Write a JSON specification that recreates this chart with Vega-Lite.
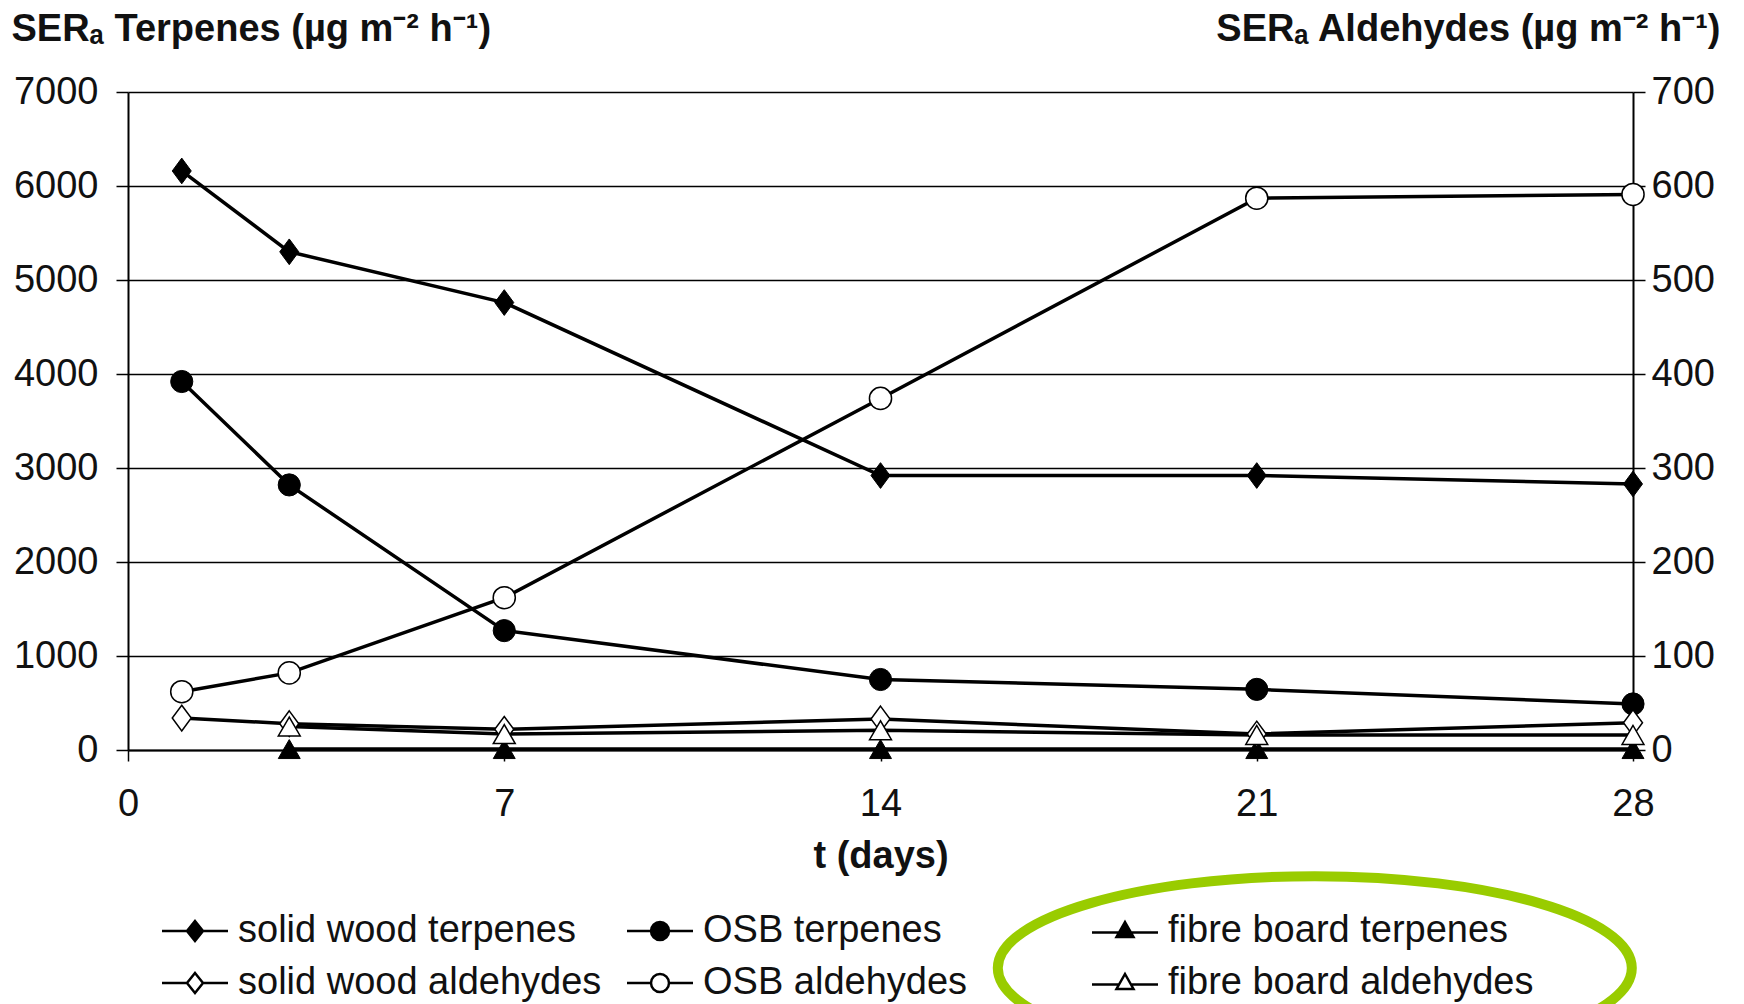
{
  "$schema": "https://vega.github.io/schema/vega-lite/v6.json",
  "width": 1505,
  "height": 658,
  "autosize": {"type": "none"},
  "padding": {"left": 128, "top": 92, "right": 111, "bottom": 254},
  "background": "white",
  "config": {
    "font": "Liberation Sans",
    "view": {"stroke": null},
    "axis": {
      "domainColor": "#000",
      "domainWidth": 2,
      "tickColor": "#000",
      "tickWidth": 1.5,
      "labelColor": "#111",
      "labelFontSize": 38,
      "labelFont": "Liberation Sans",
      "titleColor": "#111",
      "titleFontSize": 38,
      "titleFontWeight": "bold",
      "titleFont": "Liberation Sans",
      "labelFlush": false,
      "labelOverlap": false
    }
  },
  "datasets": {
    "emissions": [
      {"day": 1, "series": "solid wood terpenes", "group": "terpenes", "v": 6160},
      {"day": 3, "series": "solid wood terpenes", "group": "terpenes", "v": 5300},
      {"day": 7, "series": "solid wood terpenes", "group": "terpenes", "v": 4760},
      {"day": 14, "series": "solid wood terpenes", "group": "terpenes", "v": 2920},
      {"day": 21, "series": "solid wood terpenes", "group": "terpenes", "v": 2920},
      {"day": 28, "series": "solid wood terpenes", "group": "terpenes", "v": 2830},
      {"day": 1, "series": "OSB terpenes", "group": "terpenes", "v": 3920},
      {"day": 3, "series": "OSB terpenes", "group": "terpenes", "v": 2820},
      {"day": 7, "series": "OSB terpenes", "group": "terpenes", "v": 1270},
      {"day": 14, "series": "OSB terpenes", "group": "terpenes", "v": 750},
      {"day": 21, "series": "OSB terpenes", "group": "terpenes", "v": 645},
      {"day": 28, "series": "OSB terpenes", "group": "terpenes", "v": 490},
      {"day": 3, "series": "fibre board terpenes", "group": "terpenes", "v": 10},
      {"day": 7, "series": "fibre board terpenes", "group": "terpenes", "v": 10},
      {"day": 14, "series": "fibre board terpenes", "group": "terpenes", "v": 10},
      {"day": 21, "series": "fibre board terpenes", "group": "terpenes", "v": 10},
      {"day": 28, "series": "fibre board terpenes", "group": "terpenes", "v": 10},
      {"day": 1, "series": "solid wood aldehydes", "group": "aldehydes", "v": 34},
      {"day": 3, "series": "solid wood aldehydes", "group": "aldehydes", "v": 28},
      {"day": 7, "series": "solid wood aldehydes", "group": "aldehydes", "v": 22},
      {"day": 14, "series": "solid wood aldehydes", "group": "aldehydes", "v": 33},
      {"day": 21, "series": "solid wood aldehydes", "group": "aldehydes", "v": 17},
      {"day": 28, "series": "solid wood aldehydes", "group": "aldehydes", "v": 29},
      {"day": 1, "series": "OSB aldehydes", "group": "aldehydes", "v": 62},
      {"day": 3, "series": "OSB aldehydes", "group": "aldehydes", "v": 82},
      {"day": 7, "series": "OSB aldehydes", "group": "aldehydes", "v": 162},
      {"day": 14, "series": "OSB aldehydes", "group": "aldehydes", "v": 374},
      {"day": 21, "series": "OSB aldehydes", "group": "aldehydes", "v": 587},
      {"day": 28, "series": "OSB aldehydes", "group": "aldehydes", "v": 591},
      {"day": 3, "series": "fibre board aldehydes", "group": "aldehydes", "v": 25},
      {"day": 7, "series": "fibre board aldehydes", "group": "aldehydes", "v": 17},
      {"day": 14, "series": "fibre board aldehydes", "group": "aldehydes", "v": 21},
      {"day": 21, "series": "fibre board aldehydes", "group": "aldehydes", "v": 16},
      {"day": 28, "series": "fibre board aldehydes", "group": "aldehydes", "v": 16}
    ],
    "note": [
      {"day": 22.08, "v": -2320}
    ]
  },
  "data": {"name": "emissions"},
  "encoding": {
    "x": {
      "field": "day",
      "type": "quantitative",
      "scale": {"domain": [0, 28], "nice": false, "zero": false},
      "axis": {
        "values": [0, 7, 14, 21, 28],
        "grid": false,
        "tickSize": 11,
        "labelPadding": 24,
        "title": "t (days)",
        "titleBaseline": "alphabetic",
        "titleY": 117
      }
    }
  },
  "layer": [
    {
      "transform": [{"filter": "datum.group == 'terpenes'"}],
      "mark": {"type": "line", "color": "#000", "strokeWidth": 3.5},
      "encoding": {
        "detail": {"field": "series"},
        "y": {
          "field": "v",
          "type": "quantitative",
          "scale": {"domain": [0, 7000], "nice": false},
          "axis": {
            "orient": "left",
            "format": "d",
            "values": [0, 1000, 2000, 3000, 4000, 5000, 6000, 7000],
            "grid": true,
            "gridColor": "#000",
            "gridWidth": 1.5,
            "gridOpacity": 1,
            "tickSize": 12,
            "labelPadding": 18,
            "title": "SERₐ Terpenes (µg m⁻² h⁻¹)",
            "titleAngle": 0,
            "titleAlign": "left",
            "titleBaseline": "alphabetic",
            "titleX": -117,
            "titleY": -52
          }
        }
      }
    },
    {
      "transform": [{"filter": "datum.group == 'aldehydes'"}],
      "mark": {"type": "line", "color": "#000", "strokeWidth": 3.5},
      "encoding": {
        "detail": {"field": "series"},
        "y": {
          "field": "v",
          "type": "quantitative",
          "scale": {"domain": [0, 700], "nice": false},
          "axis": {
            "orient": "right",
            "format": "d",
            "values": [0, 100, 200, 300, 400, 500, 600, 700],
            "grid": false,
            "tickSize": 12,
            "labelPadding": 6,
            "title": "SERₐ Aldehydes (µg m⁻² h⁻¹)",
            "titleAngle": 0,
            "titleAlign": "right",
            "titleBaseline": "alphabetic",
            "titleX": 87,
            "titleY": -52
          }
        }
      }
    },
    {
      "transform": [{"filter": "datum.group == 'terpenes'"}],
      "mark": {"type": "point", "filled": true, "fill": "#000", "stroke": "#000", "strokeWidth": 1, "opacity": 1},
      "encoding": {
        "y": {"field": "v", "type": "quantitative", "scale": {"domain": [0, 7000], "nice": false}, "axis": null},
        "shape": {
          "field": "series",
          "type": "nominal",
          "scale": {"domain": ["solid wood terpenes", "OSB terpenes", "fibre board terpenes"], "range": ["M0,-1.15L0.85,0L0,1.15L-0.85,0Z", "circle", "triangle-up"]},
          "legend": null
        },
        "size": {"field": "series", "type": "nominal", "scale": {"domain": ["solid wood terpenes", "OSB terpenes", "fibre board terpenes"], "range": [500, 480, 420]}, "legend": null}
      }
    },
    {
      "transform": [{"filter": "datum.group == 'aldehydes'"}],
      "mark": {"type": "point", "filled": true, "fill": "#fff", "stroke": "#000", "strokeWidth": 1.5, "opacity": 1},
      "encoding": {
        "y": {"field": "v", "type": "quantitative", "scale": {"domain": [0, 700], "nice": false}, "axis": null},
        "shape": {
          "field": "series",
          "type": "nominal",
          "scale": {"domain": ["solid wood aldehydes", "OSB aldehydes", "fibre board aldehydes"], "range": ["M0,-1.15L0.85,0L0,1.15L-0.85,0Z", "circle", "triangle-up"]},
          "legend": null
        },
        "size": {"field": "series", "type": "nominal", "scale": {"domain": ["solid wood aldehydes", "OSB aldehydes", "fibre board aldehydes"], "range": [500, 480, 420]}, "legend": null}
      }
    },
    {
      "data": {"name": "note"},
      "mark": {
        "type": "point",
        "shape": "M-1,0A1,0.29 0 1,0 1,0A1,0.29 0 1,0 -1,0Z",
        "size": 401956,
        "filled": false,
        "fill": null,
        "stroke": "#99CC00",
        "strokeWidth": 10,
        "opacity": 1,
        "clip": false
      },
      "encoding": {
        "y": {"field": "v", "type": "quantitative", "scale": {"domain": [0, 7000], "nice": false}, "axis": null}
      }
    },
    {
      "transform": [{"filter": "false"}],
      "mark": {"type": "point", "filled": true, "strokeWidth": 2.5},
      "encoding": {
        "shape": {
          "field": "series",
          "type": "nominal",
          "title": null,
          "scale": {
            "domain": ["solid wood terpenes", "OSB terpenes", "fibre board terpenes", "solid wood aldehydes", "OSB aldehydes", "fibre board aldehydes"],
            "range": [
              "M-3.3,0H-0.8M0.8,0H3.3M0,-1L0.8,0L0,1L-0.8,0Z",
              "M-3.3,0H-0.9M0.9,0H3.3M0.9,0A0.9,0.9 0 1,1 -0.9,0A0.9,0.9 0 1,1 0.9,0Z",
              "M-3.3,0.15H-0.6M0.6,0.15H3.3M0,-0.9L0.85,0.6L-0.85,0.6Z",
              "M-3.3,0H-0.8M0.8,0H3.3M0,-1L0.8,0L0,1L-0.8,0Z",
              "M-3.3,0H-0.9M0.9,0H3.3M0.9,0A0.9,0.9 0 1,1 -0.9,0A0.9,0.9 0 1,1 0.9,0Z",
              "M-3.3,0.15H-0.6M0.6,0.15H3.3M0,-0.9L0.85,0.6L-0.85,0.6Z"
            ]
          },
          "legend": {
            "orient": "none",
            "legendX": 48,
            "legendY": 820,
            "columns": 3,
            "direction": "horizontal",
            "gridAlign": "all",
            "columnPadding": 18,
            "rowPadding": 14,
            "symbolSize": 400,
            "symbolStrokeColor": "#000",
            "symbolStrokeWidth": 2.5,
            "symbolOpacity": 1,
            "labelFontSize": 38,
            "labelFont": "Liberation Sans",
            "labelColor": "#111",
            "labelOffset": 24,
            "labelLimit": 600
          }
        },
        "fill": {
          "field": "series",
          "type": "nominal",
          "title": null,
          "scale": {
            "domain": ["solid wood terpenes", "OSB terpenes", "fibre board terpenes", "solid wood aldehydes", "OSB aldehydes", "fibre board aldehydes"],
            "range": ["#000", "#000", "#000", "#fff", "#fff", "#fff"]
          }
        },
        "stroke": {
          "field": "series",
          "type": "nominal",
          "title": null,
          "scale": {
            "domain": ["solid wood terpenes", "OSB terpenes", "fibre board terpenes", "solid wood aldehydes", "OSB aldehydes", "fibre board aldehydes"],
            "range": ["#000", "#000", "#000", "#000", "#000", "#000"]
          }
        }
      }
    }
  ],
  "resolve": {
    "scale": {"y": "independent", "shape": "independent", "fill": "independent", "size": "independent", "stroke": "independent"}
  }
}
